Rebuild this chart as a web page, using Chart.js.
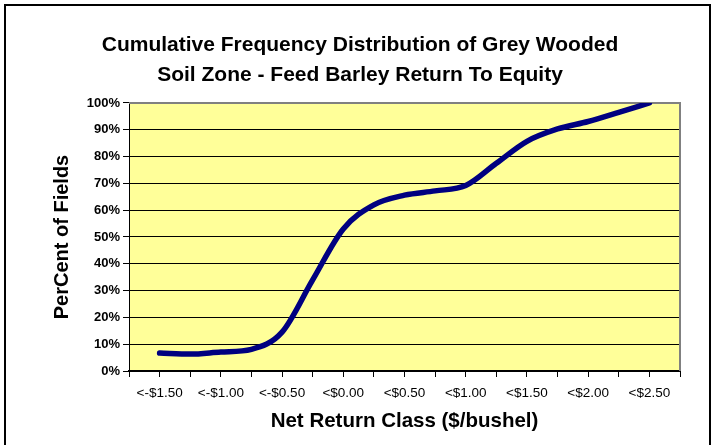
<!DOCTYPE html>
<html>
<head>
<meta charset="utf-8">
<script src="https://cdn.jsdelivr.net/npm/chart.js@4/dist/chart.umd.min.js"></script>
<style>
  html, body { margin: 0; padding: 0; background: #fff; overflow: hidden; }
  #wrap { position: relative; width: 718px; height: 445px; }
  #frame { position: absolute; left: 4px; top: 4px; width: 703px; height: 460px; border: 2px solid #000; }
  canvas { position: absolute; left: 0; top: 0; }
</style>
</head>
<body>
<div id="wrap">
  <div id="frame"></div>
  <canvas id="chart" width="718" height="445"></canvas>
</div>
<script>
// category ticks (every other one labelled, ends are empty slots)
var xLabels = ['', '<-$1.50', '', '<-$1.00', '', '<-$0.50', '', '<$0.00', '', '<$0.50', '',
               '<$1.00', '', '<$1.50', '', '<$2.00', '', '<$2.50', ''];

// cumulative percent of fields
var pctFields = [null, 6.7, 6.3, 7.1, 8.1, 14.5, 34, 53, 62, 65.6, 67.2, 69.2, 77.5, 85.7, 90.3, 93.1, 96.5, 100, null];

var yTicks = [0, 10, 20, 30, 40, 50, 60, 70, 80, 90, 100];

var titleLines = ['Cumulative Frequency Distribution of Grey Wooded', 'Soil Zone - Feed Barley Return To Equity'];

// yellow plot background + grey frame
var plotArea = {
    id: 'plotArea',
    beforeDraw: function (chart) {
        var a = chart.chartArea, ctx = chart.ctx;
        ctx.save();
        ctx.fillStyle = '#FFFF99';
        ctx.fillRect(a.left, a.top, a.right - a.left, a.bottom - a.top);
        ctx.restore();
    },
    beforeDatasetsDraw: function (chart) {
        var a = chart.chartArea, ctx = chart.ctx;
        ctx.save();
        ctx.strokeStyle = '#808080';
        ctx.lineWidth = 2;
        ctx.beginPath();
        ctx.moveTo(a.left, a.top);
        ctx.lineTo(a.right, a.top);
        ctx.lineTo(a.right, a.bottom);
        ctx.stroke();
        ctx.restore();
    }
};

var ctx = document.getElementById('chart').getContext('2d');
var myChart = new Chart(ctx, {
    type: 'line',
    data: {
        labels: xLabels,
        datasets: [{
            data: pctFields,
            borderColor: '#000080',
            borderWidth: 5.5,
            borderCapStyle: 'round',
            pointRadius: 0,
            cubicInterpolationMode: 'monotone',
            fill: false
        }]
    },
    options: {
        responsive: false,
        animation: false,
        layout: { padding: { left: 40, right: 38, top: 0, bottom: 0 } },
        plugins: {
            legend: { display: false },
            tooltip: { enabled: false },
            title: {
                display: true,
                text: titleLines,
                color: '#000',
                font: { family: 'Liberation Sans, Arial', size: 21, weight: 'bold', lineHeight: 1.395 },
                padding: { top: 31, bottom: 13.4 }
            }
        },
        scales: {
            x: {
                offset: false,
                afterFit: function (s) { s.height = 74; },
                border: { color: '#000', width: 2 },
                grid: { drawOnChartArea: false, drawTicks: true, tickLength: 6, color: '#000' },
                ticks: {
                    autoSkip: false, maxRotation: 0, padding: 8,
                    color: '#000',
                    font: { family: 'Liberation Sans, Arial', size: 13.5 }
                },
                title: {
                    display: true,
                    text: 'Net Return Class ($/bushel)',
                    color: '#000',
                    font: { family: 'Liberation Sans, Arial', size: 20.5, weight: 'bold' },
                    padding: { top: 0, bottom: 11 }
                }
            },
            y: {
                min: 0, max: 100,
                afterFit: function (s) { s.width = 89; },
                afterBuildTicks: function (s) { s.ticks = yTicks.map(function (v) { return { value: v }; }); },
                border: { color: '#000', width: 1 },
                grid: { color: '#000', lineWidth: 1, tickLength: 6 },
                ticks: {
                    padding: 3,
                    color: '#000',
                    font: { family: 'Liberation Sans, Arial', size: 13, weight: 'bold' },
                    callback: function (v) { return v + '%'; }
                },
                title: {
                    display: true,
                    text: 'PerCent of Fields',
                    color: '#000',
                    font: { family: 'Liberation Sans, Arial', size: 20, weight: 'bold' },
                    padding: { top: 10, bottom: 0 }
                }
            }
        }
    },
    plugins: [plotArea]
});
</script>
</body>
</html>
